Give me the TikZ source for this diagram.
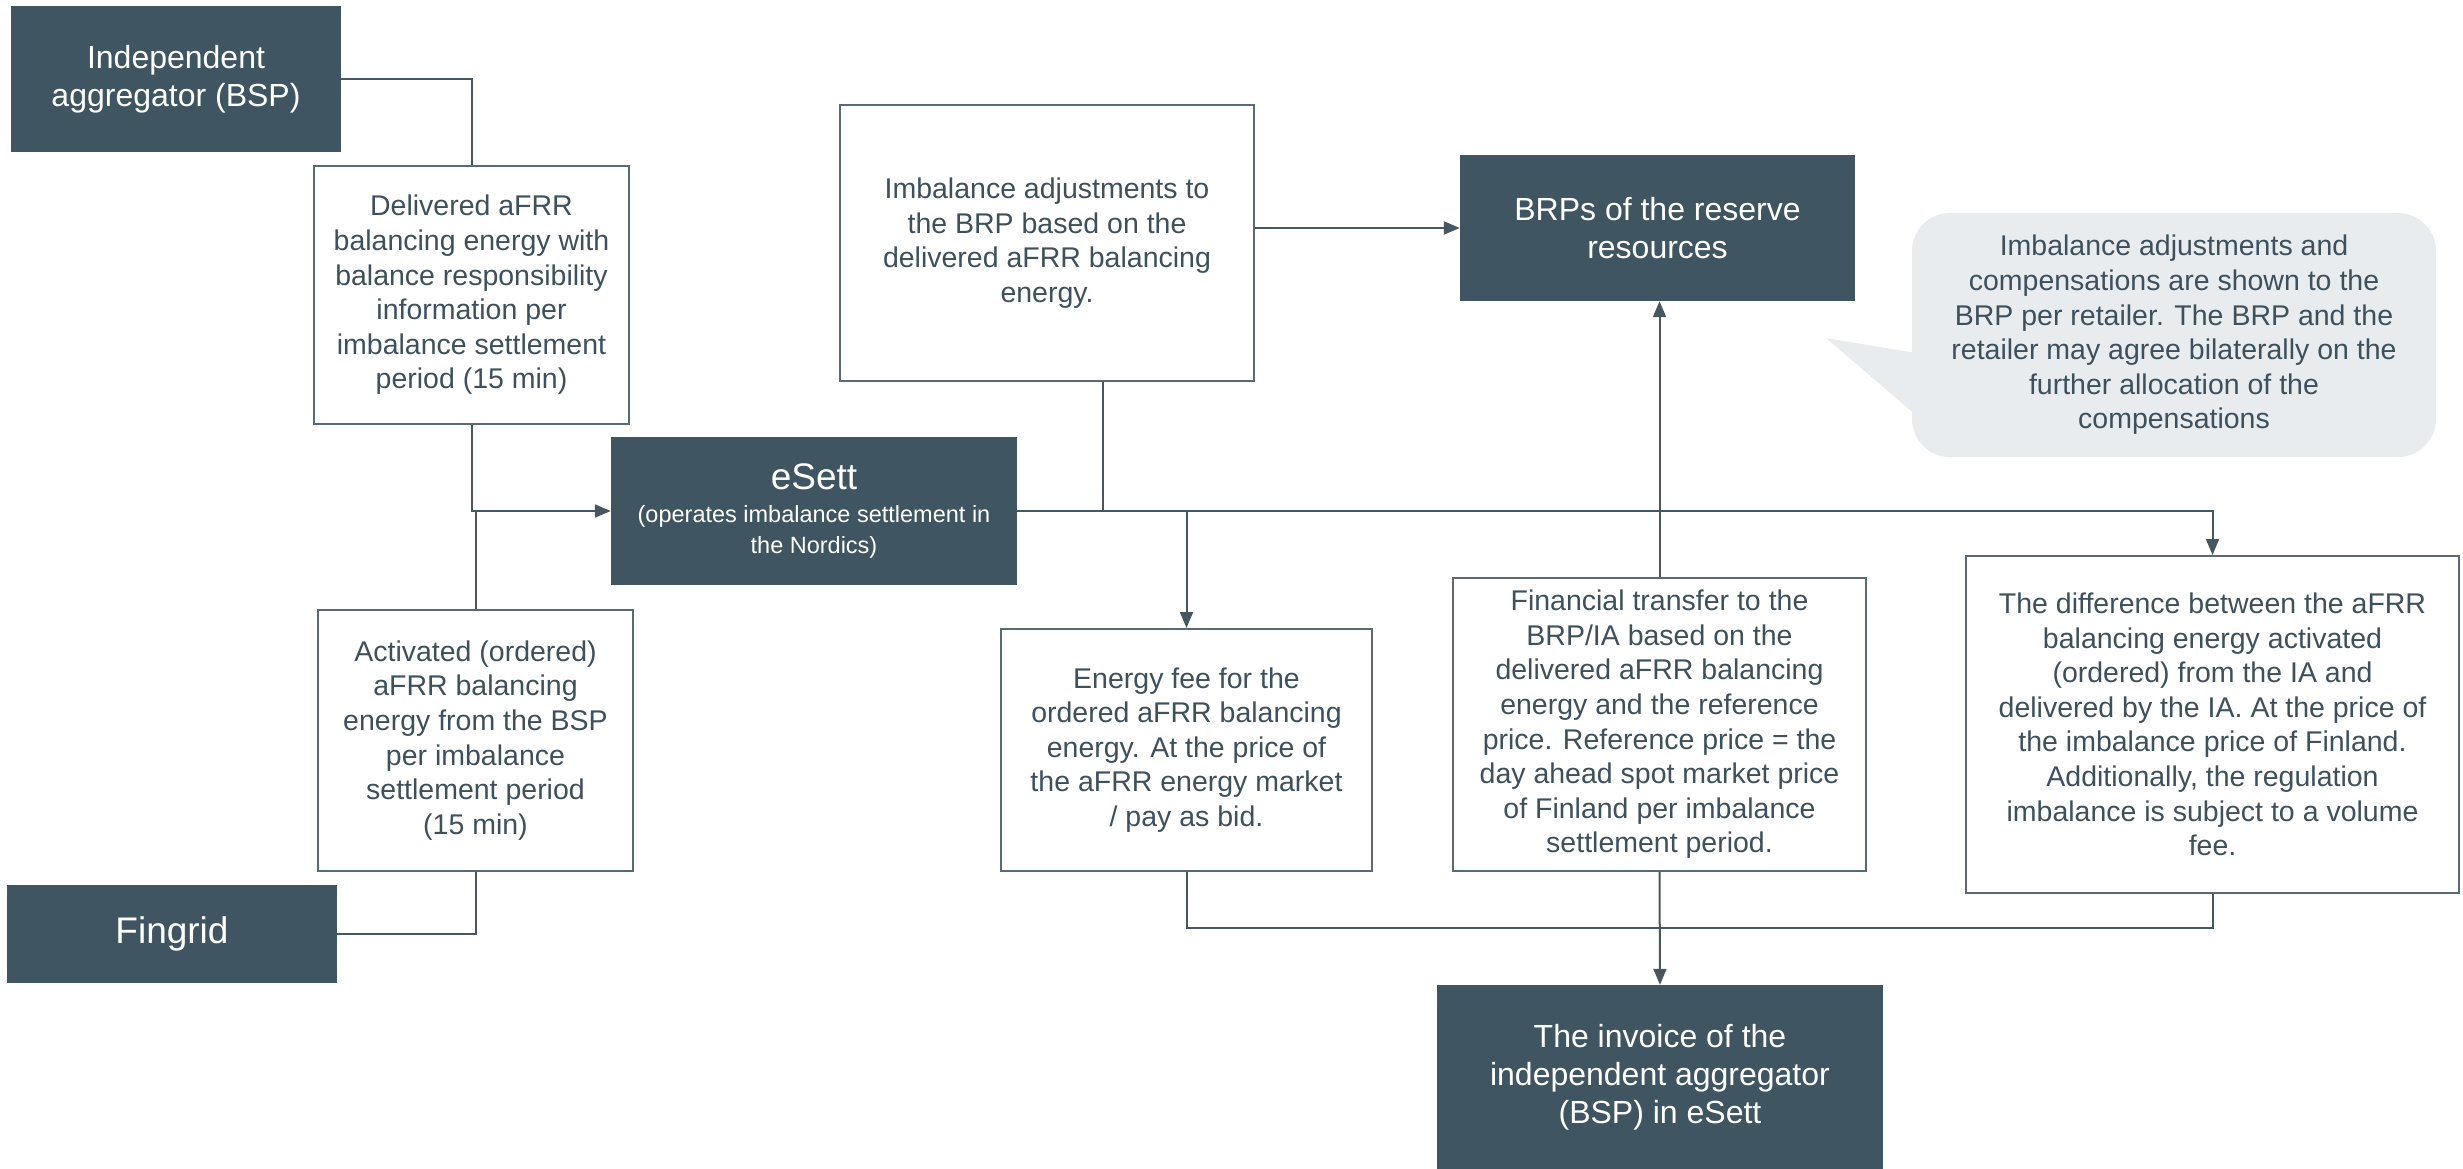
\documentclass[tikz,border=0pt]{standalone}
\usepackage{fontspec}
\setmainfont{Liberation Sans}
\usetikzlibrary{arrows.meta}
\definecolor{darkfill}{HTML}{3F5561}
\definecolor{txt}{HTML}{3D505C}
\definecolor{boxborder}{HTML}{5A6A74}
\definecolor{linec}{HTML}{47575F}
\definecolor{notefill}{HTML}{E8ECEF}
\newcommand{\lighttext}{\fontsize{28.5}{34.6}\selectfont}
\newcommand{\darktext}{\fontsize{32}{38}\selectfont}
\newcommand{\bigtitle}{\fontsize{37}{40}\selectfont}
\newcommand{\smallsub}{\fontsize{23.5}{31}\selectfont}
\tikzset{
  lightbox/.style={draw=boxborder, line width=2pt, fill=white, text=txt, align=center, font=\lighttext, inner sep=0pt},
  darkbox/.style={fill=darkfill, text=white, align=center, font=\darktext, inner sep=0pt},
  notebox/.style={fill=notefill, text=txt, align=center, font=\lighttext, inner sep=0pt, rounded corners=38pt},
  conn/.style={draw=linec, line width=2pt},
  arr/.style={conn, -{Triangle[length=16pt,width=13pt]}},
}
\begin{document}
\begin{tikzpicture}[x=1pt,y=-1pt]
\useasboundingbox (0,0) rectangle (2463,1169);
% dark nodes
\node[darkbox, minimum width=330pt, minimum height=146pt] (ia) at (176,79) {Independent\\aggregator (BSP)};
\node[darkbox, minimum width=330pt, minimum height=98pt, font=\bigtitle] (fingrid) at (172,934) {Fingrid};
\node[darkbox, minimum width=406pt, minimum height=148pt, font=\smallsub] (esett) at (814,511)
  {\bigtitle eSett\\[2pt]\smallsub (operates imbalance settlement in\\the Nordics)};
\node[darkbox, minimum width=395pt, minimum height=146pt] (brp) at (1657.5,228) {BRPs of the reserve\\resources};
\node[darkbox, minimum width=446pt, minimum height=184pt] (inv) at (1660,1077) {The invoice of the\\independent aggregator\\(BSP) in eSett};
% light nodes
\node[lightbox, minimum width=315pt, minimum height=258pt] (deliv) at (471.5,295) {Delivered aFRR\\balancing energy with\\balance responsibility\\information per\\imbalance settlement\\period (15 min)};
\node[lightbox, minimum width=315pt, minimum height=261pt] (act) at (475.5,740.5) {Activated (ordered)\\aFRR balancing\\energy from the BSP\\per imbalance\\settlement period\\(15 min)};
\node[lightbox, minimum width=414pt, minimum height=276pt] (imb) at (1047,243) {Imbalance adjustments to\\the BRP based on the\\delivered aFRR balancing\\energy.};
\node[lightbox, minimum width=371pt, minimum height=242pt] (efee) at (1186.5,750) {Energy fee for the\\ordered aFRR balancing\\energy. At the price of\\the aFRR energy market\\/ pay as bid.};
\node[lightbox, minimum width=413pt, minimum height=293pt] (fin) at (1659.5,724.5) {Financial transfer to the\\BRP/IA based on the\\delivered aFRR balancing\\energy and the reference\\price. Reference price = the\\day ahead spot market price\\of Finland per imbalance\\settlement period.};
\node[lightbox, minimum width=493pt, minimum height=337pt] (diff) at (2212.5,724.5) {The difference between the aFRR\\balancing energy activated\\(ordered) from the IA and\\delivered by the IA. At the price of\\the imbalance price of Finland.\\Additionally, the regulation\\imbalance is subject to a volume\\fee.};
% callout
\coordinate (tip) at (1826,338);
\node[notebox, minimum width=524pt, minimum height=244pt] (note) at (2174,335) {Imbalance adjustments and\\compensations are shown to the\\BRP per retailer. The BRP and the\\retailer may agree bilaterally on the\\further allocation of the\\compensations};
\fill[notefill] ([xshift=4pt]note.west |- 0,353) -- (tip) -- ([xshift=4pt]note.west |- 0,415) -- cycle;
% connectors
\coordinate (jimb) at (1103,511);
\coordinate (bot) at (0,928);
\draw[conn] (ia.east) -| (deliv.north);
\draw[arr] (deliv.south) |- (esett.west);
\draw[conn] (act.north) -- (act.north |- esett.west);
\draw[conn] (fingrid.east) -| (act.south);
\draw[conn] (imb.south -| jimb) -- (jimb);
\draw[arr] (imb.east |- brp.west) -- (brp.west);
\draw[arr] (esett.east) -| (diff.north);
\draw[arr] (efee.north |- esett.east) -- (efee.north);
\draw[arr] (fin.north) -- (fin.north |- brp.south);
\draw[conn] (efee.south) -- (efee.south |- bot) -| (diff.south);
\draw[arr] (fin.south) -- (inv.north);
\end{tikzpicture}
\end{document}
